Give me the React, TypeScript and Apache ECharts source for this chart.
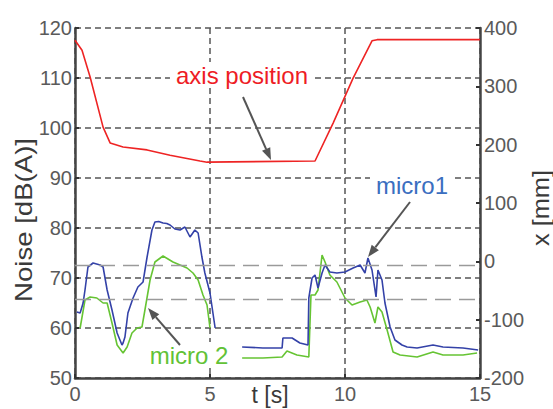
import React, { useEffect, useRef } from "react";
import * as echarts from "echarts";

// ---------- data ----------
const xTickLabels = [0, 5, 10, 15];
const noiseRange = [50, 120];
const positionRange = [-200, 400];
const thresholdsDb = [72.5, 65.8];

const micro1Seg1: [number, number][] = [
  [0.07, 63.2], [0.19, 63], [0.3, 65], [0.37, 67.6], [0.48, 72.2], [0.67, 73], [0.8, 72.8], [0.93, 72.6],
  [1.04, 72.2], [1.19, 67.6], [1.37, 63.6], [1.56, 59], [1.74, 56.6], [1.78, 57], [1.85, 58.2], [1.96, 63],
  [2.15, 66], [2.33, 68.2], [2.52, 69.2], [2.67, 74.2], [2.85, 79.6], [2.96, 81.2], [3.1, 81.3], [3.26, 81],
  [3.4, 80.9], [3.52, 80.6], [3.7, 79.8], [3.89, 79.6], [4.07, 80.2], [4.26, 78.2], [4.44, 79.6], [4.56, 79],
  [4.7, 74.2], [4.81, 71], [5.0, 67], [5.19, 60],
];
const micro1Seg2: [number, number][] = [
  [6.19, 56.2], [6.96, 56], [7.67, 56], [7.7, 58], [8.04, 58], [8.33, 57], [8.63, 56.6], [8.66, 66],
  [8.78, 70], [8.89, 70.6], [9.0, 68], [9.15, 71], [9.26, 72.6], [9.44, 71.2], [9.7, 71], [10.0, 71.2],
  [10.3, 72], [10.56, 72.6], [10.74, 71], [10.85, 74], [11.0, 71.6], [11.15, 66.2], [11.22, 71.6], [11.37, 69.6],
  [11.48, 65], [11.67, 60.2], [11.85, 57.6], [12.11, 56.6], [12.3, 56.2], [12.67, 56], [13.26, 56.6], [13.63, 56.2],
  [14.37, 56], [14.93, 55.6],
];
const micro2Seg1: [number, number][] = [
  [0.19, 60], [0.37, 65.6], [0.56, 66.2], [0.81, 66], [1.04, 65], [1.19, 65], [1.37, 61], [1.56, 56.6],
  [1.78, 55], [1.93, 56.2], [2.11, 59], [2.3, 60], [2.48, 60.2], [2.59, 63.6], [2.78, 69.6], [2.96, 73.2],
  [3.26, 74.4], [3.63, 73.2], [3.89, 72.6], [4.15, 72], [4.37, 71], [4.56, 69.6], [4.74, 66.6], [4.89, 64.6],
  [5.0, 60],
];
const micro2Seg2: [number, number][] = [
  [6.19, 54], [6.96, 54], [7.67, 54.2], [7.85, 55.4], [8.22, 54.6], [8.66, 54.2], [8.74, 66.6], [8.89, 66.6],
  [9.0, 67.6], [9.15, 74.6], [9.26, 73.2], [9.44, 70.6], [9.7, 69.2], [10.0, 66], [10.26, 64.6], [10.56, 65.2],
  [10.81, 65.6], [10.93, 64.2], [11.11, 61], [11.22, 64.2], [11.37, 63.2], [11.56, 59.6], [11.78, 55.2], [12.04, 54.6],
  [12.67, 54.2], [13.26, 55.2], [13.63, 54.6], [14.37, 54.6], [14.89, 55],
];
const axisPosition: [number, number][] = [
  [0, 379], [0.26, 362], [0.56, 316], [1.04, 230], [1.3, 203], [1.78, 196], [2.67, 191], [3.52, 182],
  [4.63, 172], [4.89, 170], [8.89, 172], [9.56, 237], [10.3, 314], [11.0, 378], [11.19, 380], [15, 380],
];

const FONT = '"Liberation Sans", Arial, sans-serif';

function arrow(x1: number, y1: number, x2: number, y2: number) {
  const a = Math.atan2(y2 - y1, x2 - x1);
  const L = 12, W = 4.5;
  const bx = x2 - L * Math.cos(a), by = y2 - L * Math.sin(a);
  const nx = -Math.sin(a), ny = Math.cos(a);
  return [
    { type: "line", z: 100, shape: { x1, y1, x2: bx, y2: by }, style: { stroke: "#555", lineWidth: 2 } },
    {
      type: "polygon", z: 100,
      shape: { points: [[x2, y2], [bx + W * nx, by + W * ny], [bx - W * nx, by - W * ny]] },
      style: { fill: "#555" },
    },
  ];
}

function label(text: string, x: number, y: number, color: string) {
  return {
    type: "text", z: 100, x, y,
    style: {
      text, fill: color, font: `24px ${FONT}`,
      align: "center", verticalAlign: "middle", textAlign: "center", textVerticalAlign: "middle",
      backgroundColor: "#fff", padding: [1, 6],
    },
  };
}

function join(a: [number, number][], b: [number, number][]) {
  return [...a, [5.6, "-"], ...b];
}

export default function App() {
  const ref = useRef<HTMLDivElement>(null);
  useEffect(() => {
    const chart = echarts.init(ref.current!, null, { renderer: "svg" });
    const axisLabel = { color: "#5a5a5a", fontSize: 20, fontFamily: FONT };
    const option = {
      animation: false,
      backgroundColor: "#fff",
      grid: { left: 75, right: 73, top: 28, bottom: 31, containLabel: false },
      xAxis: {
        type: "value", min: xTickLabels[0], max: xTickLabels[xTickLabels.length - 1], interval: 5,
        axisLine: { onZero: false, lineStyle: { color: "#444", width: 2.5 } },
        axisTick: { inside: true, length: 4, lineStyle: { color: "#333", width: 2 } },
        axisLabel: { ...axisLabel, margin: 6 },
        splitLine: { show: true, lineStyle: { color: "#555", width: 1.5, type: [6, 4] } },
      },
      yAxis: [
        {
          type: "value", min: noiseRange[0], max: noiseRange[1], interval: 10,
          axisLine: { show: true, onZero: false, lineStyle: { color: "#444", width: 2.5 } },
          axisTick: { show: true, inside: true, length: 4, lineStyle: { color: "#333", width: 2 } },
          axisLabel: { ...axisLabel, margin: 3 },
          splitLine: { show: true, lineStyle: { color: "#555", width: 1.5, type: [6, 4] } },
        },
        {
          type: "value", min: positionRange[0], max: positionRange[1], interval: 100, position: "right",
          axisLine: { show: true, onZero: false, lineStyle: { color: "#444", width: 2.5 } },
          axisTick: { show: true, inside: true, length: 4, lineStyle: { color: "#333", width: 2 } },
          axisLabel: { ...axisLabel, margin: 4 },
          splitLine: { show: false },
        },
      ],
      series: [
        {
          name: "axis position", type: "line", yAxisIndex: 1, data: axisPosition, showSymbol: false,
          lineStyle: { color: "#ee2424", width: 1.6 }, z: 3,
        },
        {
          name: "micro 2", type: "line", yAxisIndex: 0, data: join(micro2Seg1, micro2Seg2), showSymbol: false,
          connectNulls: false, lineStyle: { color: "#66c433", width: 1.6 }, z: 3,
        },
        {
          name: "micro1", type: "line", yAxisIndex: 0, data: join(micro1Seg1, micro1Seg2), showSymbol: false,
          connectNulls: false, lineStyle: { color: "#3442a8", width: 1.6 }, z: 4,
          markLine: {
            silent: true, symbol: "none", label: { show: false },
            lineStyle: { color: "#9a9a9a", width: 1.3, type: [16, 8] },
            data: thresholdsDb.map((v) => ({ yAxis: v })),
          },
        },
      ],
      graphic: [
        label("axis position", 242, 75, "#ee1c25"),
        label("micro1", 412, 185, "#3a6ec0"),
        label("micro 2", 189, 355, "#62c236"),
        ...arrow(243, 97, 271, 160),
        ...arrow(410, 202, 368, 257),
        ...arrow(180, 345, 148, 308),
        {
          type: "text", z: 100, x: 24, y: 220, rotation: Math.PI / 2, scaleX: 1.2,
          style: {
            text: "Noise [dB(A)]", fill: "#3a3a3a", font: `23px ${FONT}`,
            align: "center", verticalAlign: "middle", textAlign: "center", textVerticalAlign: "middle",
          },
        },
        {
          type: "text", z: 100, x: 541, y: 208, rotation: Math.PI / 2, scaleX: 1.1,
          style: {
            text: "x [mm]", fill: "#3a3a3a", font: `23px ${FONT}`,
            align: "center", verticalAlign: "middle", textAlign: "center", textVerticalAlign: "middle",
          },
        },
        {
          type: "text", z: 100, x: 270, y: 395,
          style: {
            text: "t [s]", fill: "#3a3a3a", font: `23px ${FONT}`,
            align: "center", verticalAlign: "middle", textAlign: "center", textVerticalAlign: "middle",
          },
        },
      ],
    };
    chart.setOption(option as any);
    return () => chart.dispose();
  }, []);
  return <div ref={ref} style={{ position: "fixed", left: 0, top: 0, width: 553, height: 409 }} />;
}
